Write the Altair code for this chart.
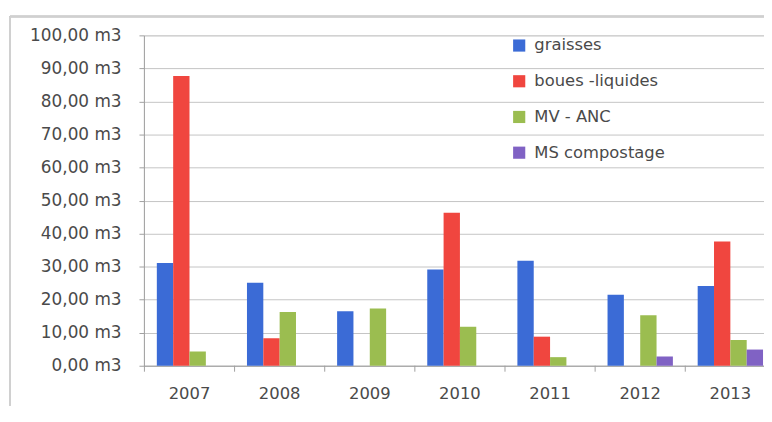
import altair as alt
import pandas as pd

years = ["2007", "2008", "2009", "2010", "2011", "2012", "2013"]
series = ["graisses", "boues -liquides", "MV - ANC", "MS compostage"]
graisses = [31.1, 25.1, 16.5, 29.1, 31.8, 21.5, 24.1]
boues = [87.7, 8.3, 0.0, 46.3, 8.8, 0.0, 37.6]
mv_anc = [4.3, 16.3, 17.3, 11.8, 2.6, 15.3, 7.8]
ms_compostage = [0.0, 0.0, 0.0, 0.0, 0.0, 2.8, 4.9]
colors = ["#3b6bd6", "#f0463f", "#9bbd50", "#8062c4"]

rows = []
for name, vals in zip(series, [graisses, boues, mv_anc, ms_compostage]):
    for y, v in zip(years, vals):
        rows.append({"year": y, "series": name, "value": v})
df = pd.DataFrame(rows)
dfy = pd.DataFrame({"year": years})

W, H = 625, 333
FONT = "DejaVu Sans"
TXT = "#4a4a4a"

xscale = alt.Scale(domain=years, paddingInner=0.275, paddingOuter=0.077, align=0.93)

bars = alt.Chart(df).mark_bar().encode(
    x=alt.X("year:N", scale=xscale, title=None,
            axis=alt.Axis(labelAngle=0, ticks=False, labelPadding=20, labelFontSize=16.5,
                          labelColor=TXT, labelFont=FONT, domainColor="#a0a0a0", grid=False)),
    xOffset=alt.XOffset("series:N", scale=alt.Scale(domain=series)),
    y=alt.Y("value:Q", scale=alt.Scale(domain=[0, 100], nice=False), title=None,
            axis=alt.Axis(values=list(range(0, 101, 10)),
                          labelExpr="replace(format(datum.value, '.2f'), '.', ',') + ' m3'",
                          labelFontSize=17, labelColor=TXT, labelFont=FONT, labelPadding=18,
                          tickSize=5, tickColor="#a0a0a0", domainColor="#a0a0a0",
                          gridColor="#c4c4c4")),
    color=alt.Color("series:N", scale=alt.Scale(domain=series, range=colors), title=None,
                    legend=alt.Legend(orient="none", legendX=370, legendY=2, symbolType="square",
                                      symbolSize=150, symbolStrokeWidth=0, labelFontSize=16.5,
                                      labelColor=TXT, labelFont=FONT, labelOffset=7,
                                      rowPadding=19, padding=0)),
)

xticks = alt.Chart(dfy).mark_rule(color="#a0a0a0", xOffset=-12.5).encode(
    x=alt.X("year:N", scale=xscale, bandPosition=0),
    y=alt.value(H),
    y2=alt.value(H + 6),
)

frame_left = alt.Chart(dfy).mark_rule(color="#d0d0d0", strokeWidth=1.5).encode(
    x=alt.value(-135), y=alt.value(-19), y2=alt.value(H + 40)
)
frame_top = alt.Chart(dfy).mark_rule(color="#d0d0d0", strokeWidth=1.5).encode(
    x=alt.value(-135), x2=alt.value(W), y=alt.value(-19)
)

chart = alt.layer(frame_left, frame_top, bars, xticks).properties(
    width=W, height=H,
    autosize=alt.AutoSizeParams(type="none"),
    padding={"left": 137, "top": 26, "right": 0, "bottom": 40},
).configure_view(stroke=None).configure(background="white")

chart.save("out.html", embed_options={"renderer": "svg", "actions": False})
